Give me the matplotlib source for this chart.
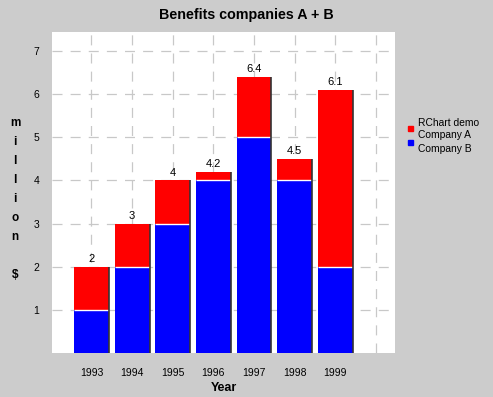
import matplotlib.pyplot as plt
from matplotlib.patches import Rectangle

plt.rcParams["font.family"] = ["Liberation Sans", "DejaVu Sans"]

years = ["1993", "1994", "1995", "1996", "1997", "1998", "1999"]
company_b = [1, 2, 3, 4, 5, 4, 2]
company_a = [1, 1, 1, 0.2, 1.4, 0.5, 4.1]
totals = [2, 3, 4, 4.2, 6.4, 4.5, 6.1]
y_ticks = [1, 2, 3, 4, 5, 6, 7]

fig = plt.figure(figsize=(4.93, 3.97), dpi=100, facecolor="#cccccc")
ax = fig.add_axes([52 / 493, 1 - 353 / 397, 343 / 493, 321 / 397])
ax.set_facecolor("white")

x = list(range(len(years)))
w = 0.86
ax.bar(x, company_b, width=w, color="#0000ff", zorder=3)
ax.bar(x, company_a, width=w, bottom=company_b, color="#ff0000", zorder=3)
# white seam between the stacks and dark shadow on the right edge
ax.hlines(company_b, [i - w / 2 for i in x], [i + w / 2 for i in x], color="white", lw=1, zorder=4)
ax.vlines([i + w / 2 for i in x], 0, totals, color="#333333", lw=1.2, zorder=4)

for i, t in zip(x, totals):
    ax.annotate(f"{t:g}", xy=(i, t), xytext=(0, 2), textcoords="offset points",
                ha="center", va="bottom", fontsize=8)

ax.set_xlim(-0.97, 7.47)
ax.set_ylim(0, 7.44)
ax.set_xticks(list(range(len(years) + 1)))
ax.set_xticklabels(years + [""])
ax.set_yticks(y_ticks)
ax.tick_params(length=0, labelsize=7.5)
ax.tick_params(axis="y", pad=9)
ax.tick_params(axis="x", pad=11)
ax.grid(True, color="#c8c8c8", lw=0.9, linestyle=(0, (8, 6.5)), zorder=0)
for s in ax.spines.values():
    s.set_visible(False)

ax.set_xlabel("Year", fontsize=9, fontweight="bold", labelpad=3)
fig.text(0.5, 1 - 15.5 / 397, "Benefits companies A + B", ha="center", va="center",
         fontsize=10.3, fontweight="bold")
fig.text(15 / 493, 1 - 199 / 397, "m\ni\nl\nl\ni\no\nn\n\n$", ha="center", va="center",
         fontsize=8.5, fontweight="bold", linespacing=1.78)

# legend
fig.text(418 / 493, 1 - 123 / 397, "RChart demo", fontsize=7.4, va="center")
fig.text(418 / 493, 1 - 135.5 / 397, "Company A", fontsize=7.4, va="center")
fig.text(418 / 493, 1 - 148.5 / 397, "Company B", fontsize=7.4, va="center")
fig.patches.append(Rectangle((408 / 493, 1 - 131 / 397), 5 / 493, 5 / 397,
                             transform=fig.transFigure, color="#ff0000"))
fig.patches.append(Rectangle((408 / 493, 1 - 145 / 397), 5 / 493, 5 / 397,
                             transform=fig.transFigure, color="#0000ff"))

fig.savefig("out.png", dpi=100, facecolor=fig.get_facecolor())
